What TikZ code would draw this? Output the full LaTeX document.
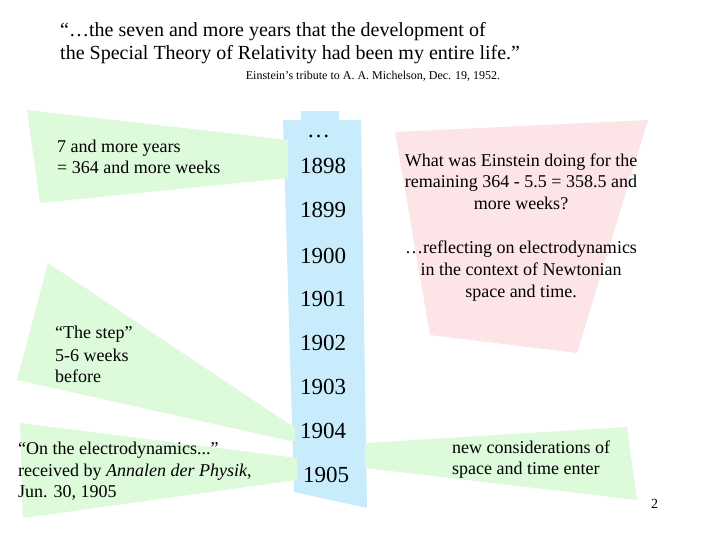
\documentclass[tikz,border=0pt]{standalone}
\usepackage{fontspec}
\setmainfont{Liberation Serif}
\definecolor{greenfill}{HTML}{DDFADA}
\definecolor{bluefill}{HTML}{C8ECFC}
\definecolor{pinkfill}{HTML}{FDE4E6}
\begin{document}
\begin{tikzpicture}[x=1pt,y=-1pt,
  txt/.style={inner sep=0pt, font=\fontsize{18}{22}\selectfont, anchor=base west},
  ctxt/.style={inner sep=0pt, font=\fontsize{18}{22}\selectfont, anchor=base},
  quote/.style={inner sep=0pt, font=\fontsize{20}{24}\selectfont, anchor=base west},
  yr/.style={inner sep=0pt, font=\fontsize{23}{27}\selectfont, anchor=base west}]
\useasboundingbox (0,0) rectangle (720,540);
% blue timeline column
\fill[bluefill] (301,111) rectangle (339,121);
\fill[bluefill] (283,120) -- (361,120) -- (367,508) -- (294,492) -- cycle;
% green wedges
\fill[greenfill] (27,110) -- (288,140) -- (288,178) -- (40,203) -- cycle;
\fill[greenfill] (48,263) -- (295,428) -- (295,442) -- (17,380) -- cycle;
\fill[greenfill] (20,423) -- (297,458) -- (297,480) -- (23,518) -- cycle;
\fill[greenfill] (365,443) -- (627,427) -- (637,500) -- (365,468) -- cycle;
% pink box
\fill[pinkfill] (395,132) -- (648,120) -- (577,353) -- (430,335) -- cycle;
% quote
\node[quote] (q1) at (60,37) {“…the seven and more years that the development of};
\node[quote] (q2) at (60,60) {the Special Theory of Relativity had been my entire life.”};
\node[inner sep=0pt, anchor=base, font=\fontsize{12}{14}\selectfont] (attr) at (373,80) {Einstein’s tribute to A. A. Michelson, Dec. 19, 1952.};
% years
\node[yr] (dots) at (307,138) {…};
\node[yr] (y1898) at (300,174) {1898};
\node[yr] (y1899) at (300,218) {1899};
\node[yr] (y1900) at (300,263) {1900};
\node[yr] (y1901) at (300,306) {1901};
\node[yr] (y1902) at (300,350) {1902};
\node[yr] (y1903) at (300,394) {1903};
\node[yr] (y1904) at (300,438) {1904};
\node[yr] (y1905) at (303,482) {1905};
% left texts
\node[txt] (a1) at (57,153) {7 and more years};
\node[txt] (a2) at (57,174) {= 364 and more weeks};
\node[txt] (s1) at (55,338) {“The step”};
\node[txt] (s2) at (55,361) {5-6 weeks};
\node[txt] (s3) at (55,382) {before};
\node[txt] (e1) at (18,454) {“On the electrodynamics...”};
\node[txt] (e2) at (18,476) {received by \textit{Annalen der Physik},};
\node[txt] (e3) at (18,497) {Jun. 30, 1905};
% pink texts
\node[ctxt] (p1) at (521,167) {What was Einstein doing for the};
\node[ctxt] (p2) at (521,188) {remaining 364 - 5.5 = 358.5 and};
\node[ctxt] (p3) at (521,210) {more weeks?};
\node[ctxt] (p4) at (521,253) {…reflecting on electrodynamics};
\node[ctxt] (p5) at (521,275) {in the context of Newtonian};
\node[ctxt] (p6) at (521,297) {space and time.};
% right text
\node[txt] (n1) at (452,453) {new considerations of};
\node[txt] (n2) at (452,474) {space and time enter};
\node[inner sep=0pt, anchor=base west, font=\fontsize{14}{16}\selectfont] (pg) at (651,508) {2};
\end{tikzpicture}
\end{document}
